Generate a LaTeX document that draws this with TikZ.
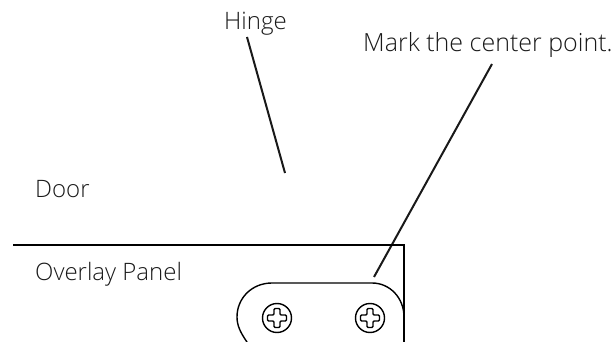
\documentclass[tikz,border=0pt]{standalone}
\usepackage{fontspec}
\setmainfont{Open Sans}[UprightFont=* Light]
\tikzset{
  lbl/.style={inner sep=0pt,anchor=base west,font=\fontsize{24}{28}\selectfont,text=black!90},
  lblwide/.style={lbl,font=\fontsize{25}{28}\selectfont},
  ln/.style={line width=2pt,black!90},
  thin/.style={line width=1.4pt,black}
}
\newcommand{\screw}[2]{%
  \begin{scope}[shift={(#1,#2)}]
    \draw[thin] (0,0) circle (14.5);
    \draw[thin,rounded corners=1.2pt]
      (-3,-9.5)--(3,-9.5)--(3,-3)--(9.5,-3)--(9.5,3)--(3,3)--(3,9.5)--(-3,9.5)--(-3,3)--(-9.5,3)--(-9.5,-3)--(-3,-3)--cycle;
  \end{scope}}
\begin{document}
\begin{tikzpicture}[x=1pt,y=-1pt]
\useasboundingbox (0,0) rectangle (613,342);
\node[lbl] (hinge) at (224,30) {Hinge};
\node[lblwide] (mark) at (363,52) {Mark the center point.};
\node[lbl] (door) at (35,197) {Door};
\node[lbl] (panel) at (35,280) {Overlay Panel};
\coordinate (h1) at (247,37);
\coordinate (h2) at (285,173);
\coordinate (m1) at (492,64);
\coordinate (m2) at (374,277);
\draw[ln] (h1) -- (h2);
\draw[ln] (m1) -- (m2);
\draw[thin] (13,245) -- (404,245) -- (404,342);
\draw[thin] (247,342) .. controls (240,332) and (237,325) .. (237,317)
  .. controls (237,298) and (252,283) .. (272,283) -- (372,283)
  .. controls (390,283) and (404,298) .. (404,317);
\screw{277}{318}
\screw{370}{318}
\end{tikzpicture}
\end{document}
